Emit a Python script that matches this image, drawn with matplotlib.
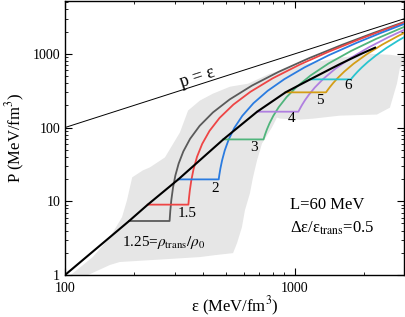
import matplotlib
matplotlib.use("Agg")
import matplotlib.pyplot as plt
from matplotlib.ticker import FixedLocator, LogLocator, NullFormatter, FuncFormatter

plt.rcParams['font.family'] = ['Liberation Serif', 'DejaVu Serif']
plt.rcParams['mathtext.fontset'] = 'stix'

# ---------------- data ----------------
# hadronic (nuclear) EOS, L = 60 MeV
black_eps = [100, 190, 229, 311, 488, 685, 910, 1165, 1570, 1917, 2230]
black_P = [1.0, 5.4, 9.0, 19.8, 69, 164, 300, 450, 726, 980, 1210]

# shaded band: energy density / pressure boundary
band_eps = [106, 132, 157, 177, 186, 196, 218, 234, 272, 316, 343, 386, 440, 522,
            625, 779, 1051, 1569, 2119, 2588, 3040, 3040, 2861, 2776, 2588, 2273,
            1569, 1198, 1051, 861, 835, 794, 719, 684, 657, 637, 606, 588, 560,
            538, 449, 386, 173, 157, 126]
band_P = [1.0, 1.75, 3.26, 6.08, 10.3, 21.1, 26.2, 28.8, 39.3, 85.6, 170, 232, 288, 358,
          393, 537, 710, 883, 1000, 969, 911, 755, 647, 393, 186, 150,
          145, 132, 128, 132, 136.5, 100, 60.8, 35.8, 21.1, 12.8, 7.56, 4.45, 2.71,
          1.98, 1.86, 1.75, 1.50, 1.37, 1.0]

# hybrid EOSs: rho_trans/rho_0 labels
labels = ["1.25", "1.5", "2", "3", "4", "5", "6"]

eps_125 = [190, 285, 287, 290, 295, 302, 312, 327, 350, 385, 440, 520, 650, 850, 1150, 1600, 2200, 3100]
P_125 = [5.4, 5.4, 7.4, 10.4, 15.4, 22.4, 32.4, 47.4, 70.4, 105.4, 160.4, 240.4, 370.4, 570.4, 870.4, 1320.4, 1920.4, 2820.4]

eps_15 = [229, 344, 346, 349, 354, 362, 375, 395, 425, 470, 540, 640, 800, 1050, 1400, 1900, 2500, 3100]
P_15 = [9.0, 9.0, 11, 14, 19, 27, 40, 60, 90, 135, 205, 305, 465, 715, 1065, 1565, 2165, 2765]

eps_2 = [311, 466, 469, 474, 482, 495, 515, 545, 590, 660, 760, 900, 1100, 1400, 1850, 2400, 3100]
P_2 = [19.8, 19.8, 22.8, 27.8, 35.8, 48.8, 68.8, 98.8, 143.8, 213.8, 313.8, 453.8, 653.8, 953.8, 1403.8, 1953.8, 2653.8]

eps_3 = [488, 730, 735, 743, 755, 775, 805, 850, 920, 1020, 1170, 1400, 1750, 2250, 3100]
P_3 = [69, 69, 74, 82, 94, 114, 144, 189, 259, 359, 509, 739, 1089, 1589, 2439]

eps_4 = [685, 1035, 1042, 1055, 1075, 1105, 1150, 1220, 1330, 1500, 1750, 2100, 2550, 3100]
P_4 = [164, 164, 171, 184, 204, 234, 279, 349, 459, 629, 879, 1229, 1679, 2229]

eps_5 = [910, 1365, 1375, 1392, 1420, 1465, 1535, 1640, 1800, 2050, 2400, 2800, 3100]
P_5 = [300, 300, 310, 327, 355, 400, 470, 575, 735, 985, 1335, 1735, 2035]

eps_6 = [1165, 1750, 1762, 1782, 1815, 1870, 1950, 2070, 2250, 2500, 2800, 3100]
P_6 = [450, 450, 462, 482, 515, 570, 650, 770, 950, 1200, 1500, 1800]

causal_eps = [100, 3100]
causal_P = [100, 3100]

curve_colors = ["#5a5a5a", "#ee4545", "#2a7be0", "#50b57c", "#b07fe0", "#d49d16", "#28c4cf"]
curves = [(eps_125, P_125), (eps_15, P_15), (eps_2, P_2), (eps_3, P_3),
          (eps_4, P_4), (eps_5, P_5), (eps_6, P_6)]

# label anchor points (data coords)
lab_eps = [177, 310, 449, 664, 970, 1285, 1698]
lab_P = [2.79, 6.88, 15.0, 53.7, 132, 232, 370]

# ---------------- figure ----------------
fig = plt.figure(figsize=(4.06, 3.17), dpi=100)
ax = fig.add_axes([65 / 406, 42 / 317, 339 / 406, 274 / 317])
ax.set_xscale('log')
ax.set_yscale('log')
ax.set_xlim(100, 2980)
ax.set_ylim(1, 5200)

ax.fill(band_eps, band_P, color="#e6e6e6", lw=0, zorder=0)

ax.plot(causal_eps, causal_P, color='black', lw=0.7, zorder=2)

for (e, p), c in zip(curves, curve_colors):
    ax.plot(e, p, color=c, lw=1.3, zorder=3)

ax.plot(black_eps, black_P, color='black', lw=1.5, zorder=4)

# labels
ax.text(lab_eps[0], lab_P[0], r"1.25=$\rho_{\rm trans}/\rho_0$", fontsize=11,
        ha='left', va='center', zorder=5)
ax.text(lab_eps[1], lab_P[1], labels[1], fontsize=11, ha='left', va='center', zorder=5)
for i in range(2, 7):
    ax.text(lab_eps[i], lab_P[i], labels[i], fontsize=11, ha='center', va='center', zorder=5)

ax.text(375, 480, "p = ε", fontsize=13, rotation=17.8, ha='center', va='center',
        rotation_mode='anchor')
ax.text(951, 8.83, "L=60 MeV", fontsize=12, ha='left', va='center')
ax.text(951, 4.32, r"Δε/ε$_{\rm trans}$=0.5", fontsize=12, ha='left', va='center')

# ticks
ax.tick_params(which='both', direction='in', top=True, right=True)
ax.tick_params(which='major', length=5, width=0.8, labelsize=10)
ax.tick_params(axis='x', which='major', pad=5)
ax.tick_params(which='minor', length=2.5, width=0.6)
ax.xaxis.set_major_locator(FixedLocator([100, 1000]))
ax.yaxis.set_major_locator(FixedLocator([1, 10, 100, 1000]))
ax.xaxis.set_minor_locator(LogLocator(base=10, subs=range(2, 10)))
ax.yaxis.set_minor_locator(LogLocator(base=10, subs=range(2, 10)))
ax.xaxis.set_minor_formatter(NullFormatter())
ax.yaxis.set_minor_formatter(NullFormatter())
fmt = FuncFormatter(lambda v, pos: f"{v:g}")
ax.xaxis.set_major_formatter(fmt)
ax.yaxis.set_major_formatter(fmt)
for s in ax.spines.values():
    s.set_linewidth(1.0)

ax.set_xlabel(r"ε (MeV/fm$^3$)", fontsize=12, labelpad=0)
ax.set_ylabel(r"P (MeV/fm$^3$)", fontsize=12, labelpad=4)

fig.savefig("out.png", dpi=100)
